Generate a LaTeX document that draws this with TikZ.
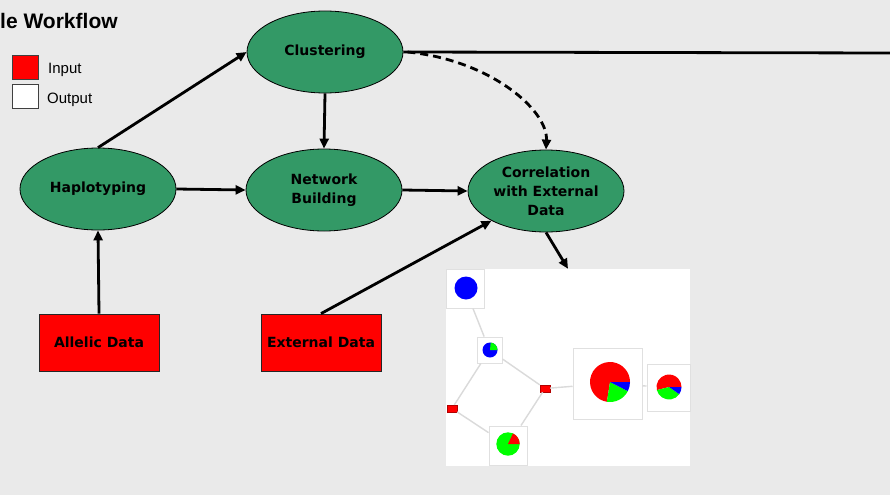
\documentclass[tikz,border=0pt]{standalone}
\usepackage{fontspec}
\setmainfont{DejaVu Sans}
\newfontfamily\arialfont{Liberation Sans}
\usetikzlibrary{shapes.geometric,arrows.meta}
\definecolor{bg}{HTML}{EAEAEA}
\definecolor{nodegreen}{HTML}{339966}
\definecolor{netline}{HTML}{DADADA}
\definecolor{netbox}{HTML}{E0E0E0}
\definecolor{pieblue}{HTML}{0000FF}
\definecolor{piegreen}{HTML}{00FF00}
\definecolor{piered}{HTML}{FF0000}
\newcommand\mywedge[5]{\fill[#1] #2 -- ++(#3:#5) arc[start angle=#3, end angle=#4, radius=#5] -- cycle;}
\begin{document}
\begin{tikzpicture}[x=1pt,y=-1pt,
  proc/.style={ellipse, draw=black, line width=0.8pt, fill=nodegreen, inner sep=0pt,
    minimum width=156pt, minimum height=82pt, align=center,
    font=\fontsize{14}{19}\selectfont\bfseries},
  inbox/.style={rectangle, draw=black!85, line width=0.8pt, fill=red, inner sep=0pt,
    minimum width=120pt, minimum height=57pt, font=\fontsize{14}{17}\selectfont\bfseries},
  legbox/.style={rectangle, draw=black!75, line width=0.7pt, inner sep=0pt,
    minimum width=26pt, minimum height=24pt},
  legtext/.style={anchor=base west, inner sep=0pt, font=\arialfont\fontsize{15}{15}\selectfont},
  flow/.style={line width=2.8pt, -{Triangle[length=10pt,width=9pt]}},
  netframe/.style={rectangle, draw=netbox, line width=1pt, fill=white, inner sep=0pt},
  netdot/.style={rectangle, draw=red!70!black, line width=0.4pt, fill=red, inner sep=0pt,
    minimum width=10pt, minimum height=7pt},
  netedge/.style={draw=netline, line width=1.4pt}]
\useasboundingbox (0,0) rectangle (890,495);
\fill[bg] (0,0) rectangle (890,495);

% title and legend
\node[anchor=base west, inner sep=0pt, font=\arialfont\bfseries\fontsize{21}{21}\selectfont] (title) at (0,29) {le Workflow};
\node[legbox, fill=red] (inleg) at (25,67) {};
\node[legbox, fill=white] (outleg) at (25,96) {};
\node[legtext] (intext) at (48,73) {Input};
\node[legtext] (outtext) at (47,103) {Output};

% process nodes
\node[proc] (clus) at (325,52) {\raisebox{-1.5pt}{Clustering}};
\node[proc] (hap) at (98,189) {\raisebox{-1pt}{Haplotyping}};
\node[proc] (net) at (324,190) {Network\\Building};
\node[proc] (corr) at (546,191) {Correlation\\with External\\Data};
\node[inbox] (allelic) at (99,342.5) {Allelic Data};
\node[inbox] (ext) at (321,342.5) {External Data};

% network image
\node[rectangle, fill=white, inner sep=0pt, minimum width=244pt, minimum height=197pt] (img) at (568,367.5) {};
\node[netframe, minimum width=38pt, minimum height=39pt] (nb1) at (465,288.5) {};
\node[netframe, minimum width=25pt, minimum height=26pt] (nb2) at (489.5,350) {};
\node[netframe, minimum width=69pt, minimum height=71pt] (nb3) at (607.5,383.5) {};
\node[netframe, minimum width=43pt, minimum height=47pt] (nb4) at (668.5,387.5) {};
\node[netframe, minimum width=38pt, minimum height=39pt] (nb5) at (508,445.5) {};
\node[netdot] (nr1) at (545,388.5) {};
\node[netdot] (nr2) at (452,408.5) {};
\draw[netedge] (nb1) -- (nb2);
\draw[netedge] (nb2) -- (nr1);
\draw[netedge] (nb2) -- (nr2);
\draw[netedge] (nr2) -- (nb5);
\draw[netedge] (nr1) -- (nb5);
\draw[netedge] (nr1) -- (nb3);
\draw[netedge] (nb3) -- (nb4);
% pies
\fill[pieblue] (466,288) circle[radius=11.5];
\fill[pieblue] (490,350) circle[radius=7.5];
\mywedge{piegreen}{(490,350)}{-85}{0}{7.5}
\mywedge{piered}{(610,382)}{99}{360}{20}
\mywedge{piegreen}{(610,382)}{27}{99}{20}
\mywedge{pieblue}{(610,382)}{0}{27}{20}
\mywedge{piered}{(669,387)}{166}{360}{12.5}
\mywedge{piegreen}{(669,387)}{35}{166}{12.5}
\mywedge{pieblue}{(669,387)}{0}{35}{12.5}
\fill[piegreen] (508,444) circle[radius=11.7];
\mywedge{piered}{(508,444)}{-65}{0}{11.7}

% connectors
\coordinate (rightend) at (892,53);
\draw[flow] (hap.north) -- (clus.west);
\draw[flow] (clus.south) -- (net.north);
\draw[flow] (hap.east) -- (net.west);
\draw[flow] (net.east) -- (corr.west);
\draw[flow] (allelic.north) -- (hap.south);
\draw[flow] (ext.north) -- (corr);
\draw[flow] (corr.south) -- (img.north);
\draw[line width=2.8pt] (clus.east) -- (rightend);
\draw[line width=2.8pt, dash pattern=on 8pt off 5pt, -{Triangle[length=10pt,width=9pt]}]
  ([xshift=4pt]clus.east) .. controls (490,60) and (548,110) .. (corr.north);
\end{tikzpicture}
\end{document}
